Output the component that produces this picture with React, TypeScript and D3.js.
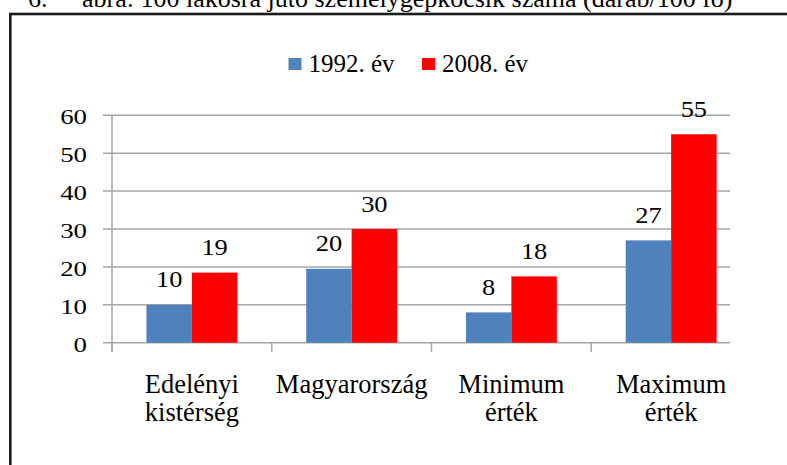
import React from 'react'
import { scaleBand, scaleLinear } from 'd3'

// 100 lakosra jutó személygépkocsik száma
const categories = ["Edelényi kistérség", "Magyarország", "Minimum érték", "Maximum érték"]
const series = ["1992. év", "2008. év"]
const values1992 = [10, 19.5, 8, 27]
const values2008 = [18.5, 30, 17.5, 55]
const yTicks = [0, 10, 20, 30, 40, 50, 60]
const colors = ["#4F81BD", "#FF0000"]

const FONT = "Liberation Serif"

function Label(props: any) {
  const { children, ...rest } = props
  return <text fontFamily={FONT} fill="#000" {...rest}>{children}</text>
}

function App() {
  const width = 787, height = 465
  const plotLeft = 112, plotRight = 751, gridRight = 730
  const plotTop = 115.3, plotBottom = 342.7

  const x0 = scaleBand<string>().domain(categories).range([plotLeft, plotRight])
  const x1 = scaleBand<string>().domain(series).range([0, x0.bandwidth()])
    .paddingInner(0).paddingOuter(0.758)
  const y = scaleLinear().domain([0, 60]).range([plotBottom, plotTop])

  const rows = categories.map((c, i) => ({ c, vals: [values1992[i], values2008[i]] }))
  const legendX = [288.5, 422]
  const grid = "#A6A6A6"

  return (
    <svg width={width} height={height} fontFamily={FONT} style={{ position: "absolute", left: 0, top: 0 }}>
      <rect x={0} y={0} width={width} height={height} fill="white" />
      {/* caption, cut at the top */}
      <Label x={28} y={7} fontSize={26}>6.</Label>
      <Label x={82} y={7} fontSize={26}>ábra: 100 lakosra jutó személygépkocsik száma (darab/100 fő)</Label>

      <rect x={10.3} y={14} width={800} height={480} fill="white" stroke="#1a1a1a" strokeWidth={2.6} />

      {/* gridlines */}
      {yTicks.map(t => (
        <line key={"g" + t} x1={103} x2={gridRight} y1={y(t)} y2={y(t)} stroke={grid} strokeWidth={1.5} />
      ))}
      <line x1={plotLeft} x2={plotLeft} y1={plotTop} y2={plotBottom + 9} stroke={grid} strokeWidth={1.5} />
      {categories.map(c => (
        <line key={"t" + c} x1={x0(c)} x2={x0(c)} y1={plotBottom} y2={plotBottom + 9} stroke={grid} strokeWidth={1.5} />
      ))}

      {/* y tick labels */}
      {yTicks.map(t => (
        <Label key={"l" + t} transform={`translate(87,${y(t) + 9}) scale(1.22,1)`} textAnchor="end" fontSize={22}>{t}</Label>
      ))}

      {/* bars */}
      {rows.map(r => (
        <g key={r.c} transform={`translate(${x0(r.c)},0)`}>
          {r.vals.map((v, j) => (
            <rect key={series[j]} x={x1(series[j])} width={x1.bandwidth()} y={y(v)} height={plotBottom - y(v)} fill={colors[j]} />
          ))}
          {r.vals.map((v, j) => (
            <Label key={"v" + series[j]} transform={`translate(${x1(series[j])! + x1.bandwidth() / 2},${y(v) - 17.5}) scale(1.15,1)`}
              textAnchor="middle" fontSize={23}>{Math.round(v)}</Label>
          ))}
        </g>
      ))}

      {/* category labels */}
      {categories.map(c => (
        <Label key={"c" + c} textAnchor="middle" fontSize={26.5}>
          {c.split(" ").map((w, i) => (
            <tspan key={w} x={x0(c)! + x0.bandwidth() / 2} y={393 + i * 28}>{w}</tspan>
          ))}
        </Label>
      ))}

      {/* legend */}
      {series.map((s, i) => (
        <g key={s} transform={`translate(${legendX[i]},0)`}>
          <rect x={0} y={58} width={13} height={12} fill={colors[i]} />
          <Label x={20} y={71.7} fontSize={25}>{s}</Label>
        </g>
      ))}
    </svg>
  )
}

export default App
